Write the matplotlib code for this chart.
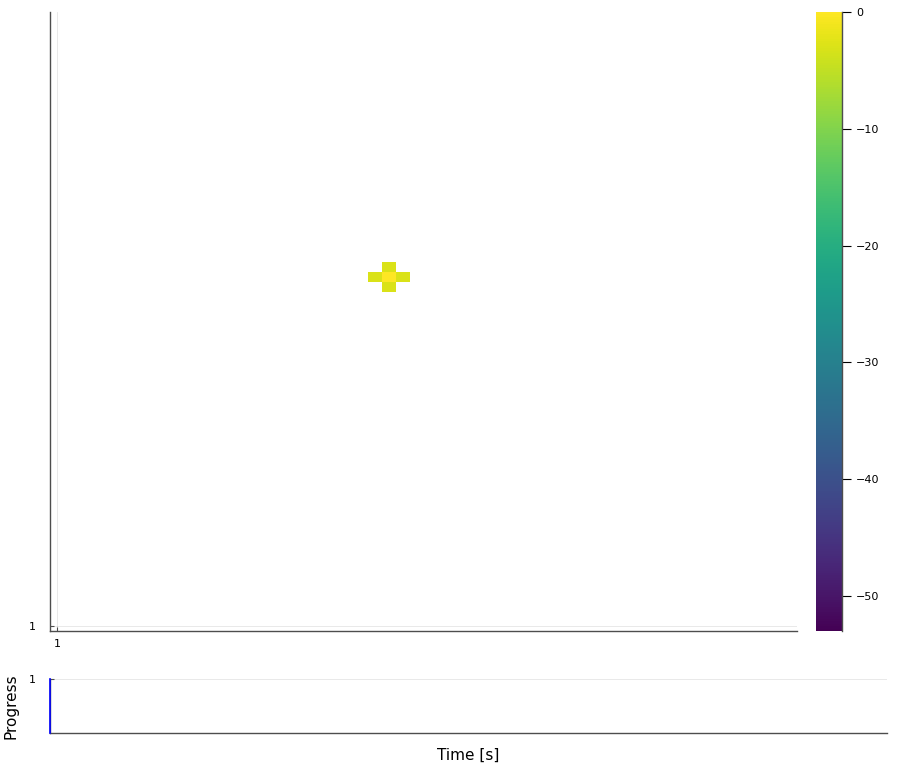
import numpy as np
import matplotlib
matplotlib.use("Agg")
import matplotlib.pyplot as plt
from matplotlib.colors import Normalize
from matplotlib.cm import ScalarMappable

# heatmap grid size and the few non-empty cells (dB)
n_cols = 54
n_rows = 62
cell_x = [25, 24, 26, 25, 25]
cell_y = [36, 36, 36, 35, 37]
cell_db = [0.0, -3.0, -3.0, -3.0, -3.0]
db_min, db_max = -53, 0
cbar_ticks = [0, -10, -20, -30, -40, -50]

# progress line
progress_t = [0, 0]
progress_val = [0, 1]

spine_col = "#4d4d4d"

grid = np.full((n_rows, n_cols), np.nan)
for x, y, v in zip(cell_x, cell_y, cell_db):
    grid[y - 1, x - 1] = v

fig = plt.figure(figsize=(9, 7.65), dpi=100)

# main heatmap
ax = fig.add_axes([50 / 900, 134 / 765, 747 / 900, 619 / 765])
norm = Normalize(db_min, db_max)
ax.imshow(grid, cmap="viridis", norm=norm, origin="lower", aspect="auto",
          extent=(0.5, n_cols + 0.5, 0.5, n_rows + 0.5), interpolation="nearest", zorder=2)
ax.set_xlim(0.5, n_cols + 0.5)
ax.set_ylim(0.5, n_rows + 0.5)
ax.set_xticks([1])
ax.set_yticks([1])
ax.grid(True, color="black", alpha=0.1, linewidth=0.6, zorder=0)
ax.tick_params(direction="in", length=3, labelsize=8, color=spine_col, width=0.8)
ax.tick_params(axis="y", pad=10)
ax.tick_params(axis="x", pad=6)
for s in ["top", "right"]:
    ax.spines[s].set_visible(False)
for s in ["left", "bottom"]:
    ax.spines[s].set_color(spine_col)
    ax.spines[s].set_linewidth(1.0)

# colorbar
cax = fig.add_axes([816 / 900, 134 / 765, 26 / 900, 619 / 765])
cb = fig.colorbar(ScalarMappable(norm=norm, cmap="viridis"), cax=cax, ticks=cbar_ticks)
cb.outline.set_visible(False)
cax.spines["right"].set_visible(True)
cax.spines["right"].set_color(spine_col)
cax.spines["right"].set_linewidth(1.0)
cax.tick_params(direction="out", length=6.5, width=0.8, labelsize=8, color="black")

# progress panel
ax2 = fig.add_axes([50 / 900, 32 / 765, 837 / 900, 54 / 765])
ax2.plot(progress_t, progress_val, color="blue", linewidth=1.2, zorder=3, clip_on=False)
ax2.set_xlim(0, 1)
ax2.set_ylim(0, 1)
ax2.set_xticks([])
ax2.set_yticks([1])
ax2.grid(True, axis="y", color="black", alpha=0.1, linewidth=0.6)
ax2.tick_params(direction="in", length=3, labelsize=8, color=spine_col, width=0.8)
ax2.tick_params(axis="y", pad=10)
for s in ["top", "right"]:
    ax2.spines[s].set_visible(False)
for s in ["left", "bottom"]:
    ax2.spines[s].set_color(spine_col)
    ax2.spines[s].set_linewidth(1.0)
ax2.set_ylabel("Progress", fontsize=11, labelpad=8)
ax2.set_xlabel("Time [s]", fontsize=11, labelpad=11)

fig.savefig("out.png", dpi=100)
